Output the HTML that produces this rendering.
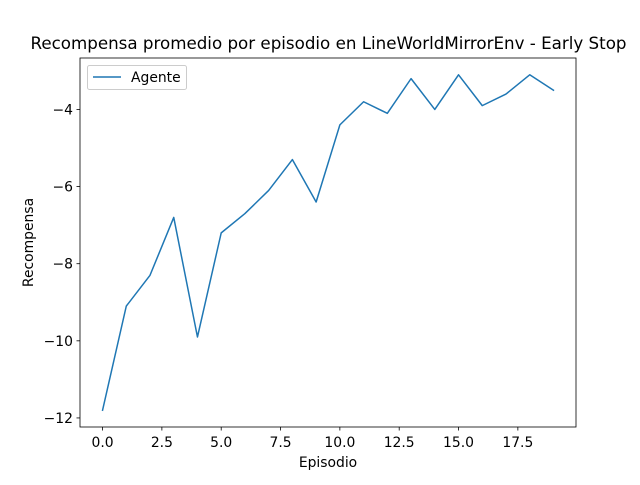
<!DOCTYPE html>
<html><head><meta charset="utf-8"><style>
html,body{margin:0;padding:0;background:#fff;}
svg text{font-family:"DejaVu Sans","Liberation Sans",sans-serif;}
</style></head><body>
<svg id="chart" width="640" height="480" xmlns="http://www.w3.org/2000/svg">
<rect width="640" height="480" fill="#fff"/>
<g id="plot"></g>
</svg>
<script>
const episodes=[0,1,2,3,4,5,6,7,8,9,10,11,12,13,14,15,16,17,18,19];
const rewards=[-11.8,-9.1,-8.3,-6.8,-9.9,-7.2,-6.7,-6.1,-5.3,-6.4,-4.4,-3.8,-4.1,-3.2,-4.0,-3.1,-3.9,-3.6,-3.1,-3.5];
const xTicks=[0,2.5,5,7.5,10,12.5,15,17.5];
const xTickLabels=["0.0","2.5","5.0","7.5","10.0","12.5","15.0","17.5"];
const yTicks=[-12,-10,-8,-6,-4];
const yTickLabels=["\u221212","\u221210","\u22128","\u22126","\u22124"];

const L=80,R=576,T=58,B=427;
const xmin=-0.95,xmax=19.95,ymin=-12.235,ymax=-2.665;
const sx=v=>L+(v-xmin)/(xmax-xmin)*(R-L);
const sy=v=>B-(v-ymin)/(ymax-ymin)*(B-T);
const NS="http://www.w3.org/2000/svg";
const g=document.getElementById('plot');
function mk(tag,attrs,parent){const e=document.createElementNS(NS,tag);for(const k in attrs)e.setAttribute(k,attrs[k]);(parent||g).appendChild(e);return e;}

const pts=episodes.map((x,i)=>sx(x).toFixed(2)+","+sy(rewards[i]).toFixed(2)).join(" ");
const line=mk('polyline',{points:pts,fill:'none',stroke:'#1f77b4','stroke-width':1.5,'stroke-linejoin':'round','stroke-linecap':'square'});



const frame=mk('rect',{x:L,y:T,width:R-L,height:B-T,fill:'none',stroke:'#000','stroke-width':0.8});



xTicks.forEach((v,i)=>{
  const x=sx(v);
  const t=mk('line',{x1:x,y1:B,x2:x,y2:B+3.5,stroke:'#000','stroke-width':0.8});
  
  
  const l=mk('text',{x:x,y:B+20,'font-size':13.9,'text-anchor':'middle',fill:'#000'});
  l.textContent=xTickLabels[i];
  
  
});
yTicks.forEach((v,i)=>{
  const y=sy(v);
  const t=mk('line',{x1:L-3.5,y1:y,x2:L,y2:y,stroke:'#000','stroke-width':0.8});
  
  
  const l=mk('text',{x:L-7,y:y+5,'font-size':13.9,'text-anchor':'end',fill:'#000'});
  l.textContent=yTickLabels[i];
  
  
});

const title=mk('text',{x:(L+R)/2+0.5,y:49,'font-size':16.7,'text-anchor':'middle',fill:'#000'});
title.textContent="Recompensa promedio por episodio en LineWorldMirrorEnv - Early Stop";



const xl=mk('text',{x:(L+R)/2,y:467,'font-size':13.9,'text-anchor':'middle',fill:'#000'});
xl.textContent="Episodio";



const yl=mk('text',{x:0,y:0,'font-size':13.9,'text-anchor':'middle',fill:'#000',transform:`translate(33,${(T+B)/2}) rotate(-90)`});
yl.textContent="Recompensa";



const lg=mk('g',{});


mk('rect',{x:87.5,y:65.5,width:99,height:24,rx:2,fill:'#fff','fill-opacity':0.8,stroke:'#ccc','stroke-width':1},lg);
const ll=mk('line',{x1:93,y1:77,x2:121,y2:77,stroke:'#1f77b4','stroke-width':1.5},lg);


const lt=mk('text',{x:131,y:82,'font-size':13.9,fill:'#000'},lg);
lt.textContent="Agente";


</script>
</body></html>
